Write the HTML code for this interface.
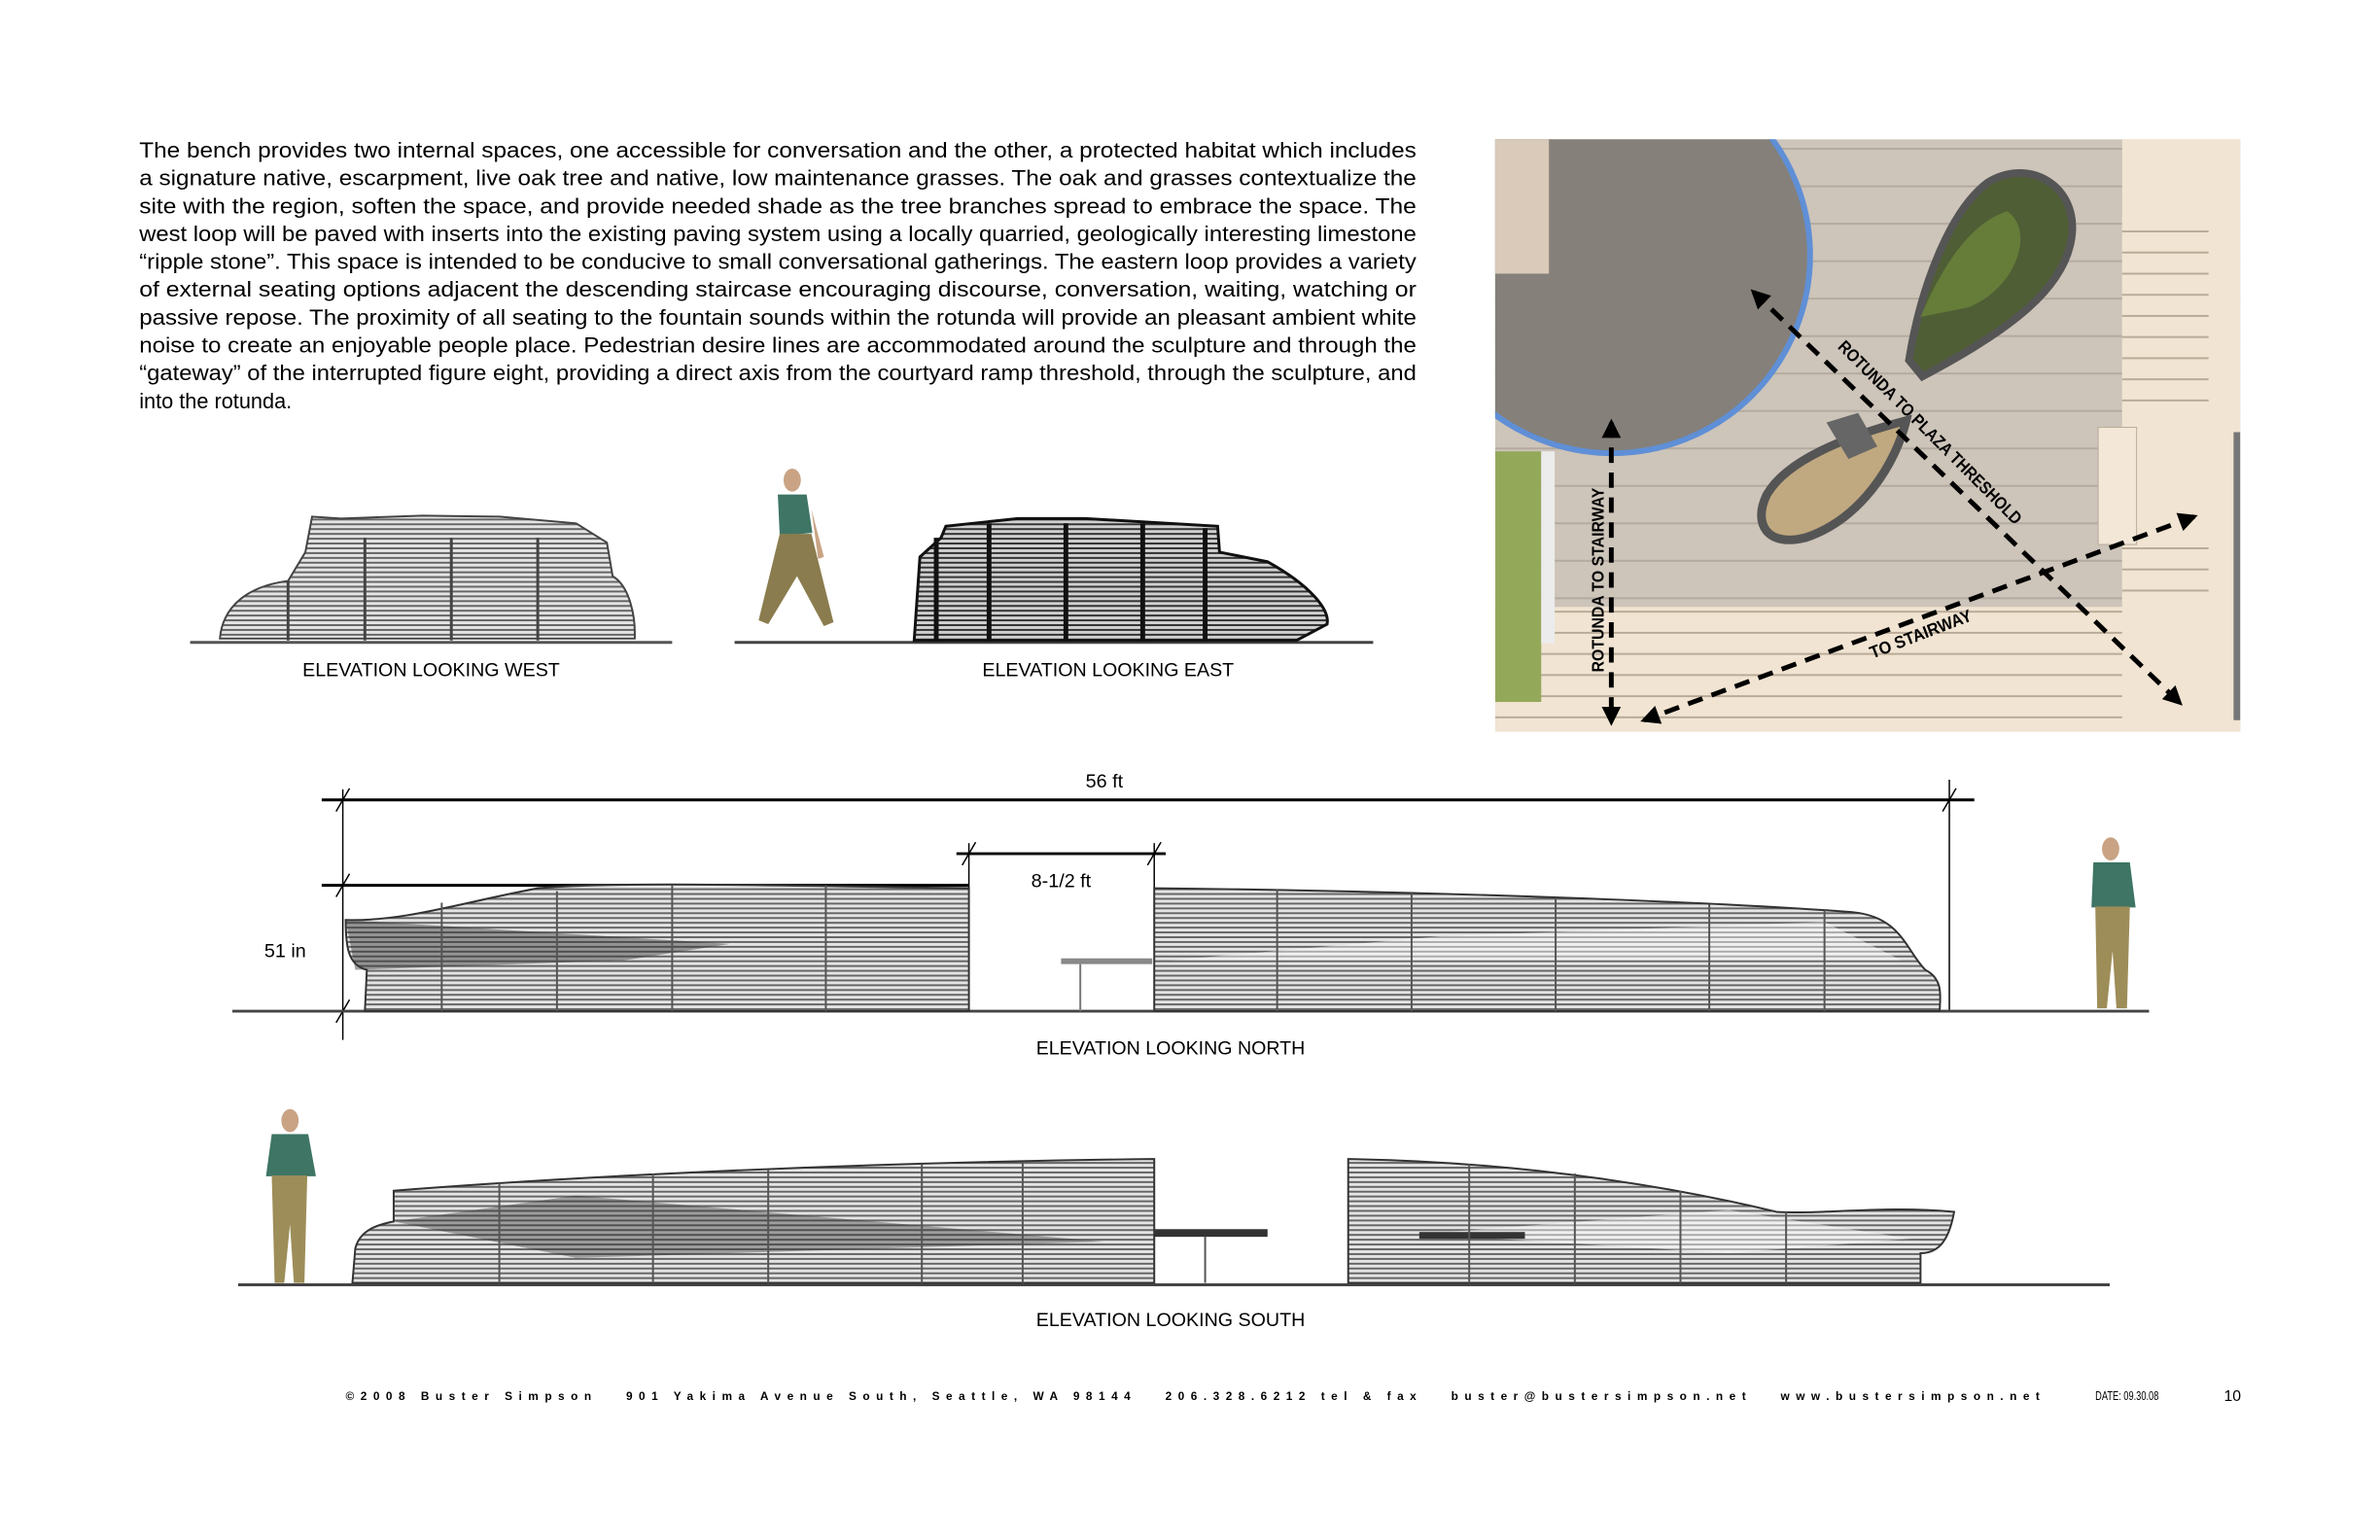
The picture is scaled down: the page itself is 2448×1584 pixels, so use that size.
<!DOCTYPE html>
<html><head><meta charset="utf-8"><style>
html,body{margin:0;padding:0;background:#fff}
svg{display:block}
text{font-family:"Liberation Sans",Arial,sans-serif}
</style></head><body>
<svg width="2448" height="1584" viewBox="0 0 2448 1584" xmlns="http://www.w3.org/2000/svg">
<defs>
<pattern id="st" width="6" height="5" patternUnits="userSpaceOnUse"><rect width="6" height="5" fill="#e4e4e4"/><rect width="6" height="2" fill="#666"/></pattern>
<pattern id="st2" width="6" height="5" patternUnits="userSpaceOnUse"><rect width="6" height="5" fill="#d0d0d0"/><rect width="6" height="2" fill="#333"/></pattern>
<pattern id="pav" width="40" height="39" patternUnits="userSpaceOnUse"><rect width="40" height="39" fill="#cdc4ba"/><rect y="37" width="40" height="2" fill="#b3aaa0"/></pattern>
<pattern id="stair" width="40" height="22" patternUnits="userSpaceOnUse"><rect width="40" height="22" fill="#f1e4d2"/><rect y="20" width="40" height="2" fill="#b9ab98"/></pattern>
<marker id="ah" viewBox="0 0 10 10" refX="8" refY="5" markerWidth="24" markerHeight="20" markerUnits="userSpaceOnUse" orient="auto-start-reverse"><path d="M0,0 L10,5 L0,10 z" fill="#000"/></marker>
<clipPath id="mapc"><rect x="1557" y="145" width="776" height="617"/></clipPath>
</defs>
<g transform="scale(0.9877)">

<!-- paragraph -->
<g font-size="22" fill="#000">
<text x="145" y="164" textLength="1330" lengthAdjust="spacingAndGlyphs">The bench provides two internal spaces, one accessible for conversation and the other, a protected habitat which includes</text>
<text x="145" y="193" textLength="1330" lengthAdjust="spacingAndGlyphs">a signature native, escarpment, live oak tree and native, low maintenance grasses. The oak and grasses contextualize the</text>
<text x="145" y="222" textLength="1330" lengthAdjust="spacingAndGlyphs">site with the region, soften the space, and provide needed shade as the tree branches spread to embrace the space. The</text>
<text x="145" y="251" textLength="1330" lengthAdjust="spacingAndGlyphs">west loop will be paved with inserts into the existing paving system using a locally quarried, geologically interesting limestone</text>
<text x="145" y="280" textLength="1330" lengthAdjust="spacingAndGlyphs">“ripple stone”. This space is intended to be conducive to small conversational gatherings. The eastern loop provides a variety</text>
<text x="145" y="309" textLength="1330" lengthAdjust="spacingAndGlyphs">of external seating options adjacent the descending staircase encouraging discourse, conversation, waiting, watching or</text>
<text x="145" y="338" textLength="1330" lengthAdjust="spacingAndGlyphs">passive repose. The proximity of all seating to the fountain sounds within the rotunda will provide an pleasant ambient white</text>
<text x="145" y="367" textLength="1330" lengthAdjust="spacingAndGlyphs">noise to create an enjoyable people place. Pedestrian desire lines are accommodated around the sculpture and through the</text>
<text x="145" y="396" textLength="1330" lengthAdjust="spacingAndGlyphs">“gateway” of the interrupted figure eight, providing a direct axis from the courtyard ramp threshold, through the sculpture, and</text>
<text x="145" y="425">into the rotunda.</text>
</g>

<!-- MAP -->
<g clip-path="url(#mapc)">
<rect x="1557" y="145" width="776" height="617" fill="url(#pav)"/>
<rect x="1557" y="632" width="776" height="130" fill="url(#stair)"/>
<rect x="2210" y="145" width="123" height="617" fill="#f1e4d2"/>
<rect x="2210" y="225" width="90" height="210" fill="url(#stair)"/>
<rect x="2185" y="445" width="40" height="122" fill="#f3e8d8" stroke="#b9ab98"/>
<rect x="2210" y="570" width="90" height="60" fill="url(#stair)"/>
<rect x="2326" y="450" width="7" height="300" fill="#777"/>
<circle cx="1679" cy="266" r="206" fill="#858079" stroke="#5f8fd6" stroke-width="6"/>
<rect x="1557" y="145" width="56" height="140" fill="#d9cab9"/>
<rect x="1557" y="470" width="48" height="261" fill="#94a85a"/>
<rect x="1605" y="470" width="14" height="200" fill="#ececec"/>
<!-- planter -->
<path d="M1988,375 C2000,300 2030,220 2070,190 C2110,165 2160,190 2158,240 C2155,300 2090,345 2002,392 Z" fill="#4f5e35" stroke="#555" stroke-width="8"/>
<path d="M2000,330 C2030,260 2060,230 2090,220 C2120,240 2100,300 2050,320 Z" fill="#6f8a3c" opacity=".7"/>
<!-- beige bench -->
<path d="M1985,438 C1975,480 1940,540 1880,560 C1840,570 1825,545 1840,515 C1860,480 1920,455 1985,438 Z" fill="#c0a880" stroke="#555" stroke-width="9"/>
<path d="M1902,440 L1925,478 L1955,465 L1935,430 Z" fill="#666"/>
</g>
<!-- map arrows -->
<g stroke="#000" stroke-width="5" stroke-dasharray="16,10" fill="none">
<line x1="1826" y1="304" x2="2270" y2="732" marker-end="url(#ah)" marker-start="url(#ah)"/>
<line x1="1678" y1="440" x2="1678" y2="752" marker-end="url(#ah)" marker-start="url(#ah)"/>
<line x1="2285" y1="538" x2="1712" y2="750" marker-end="url(#ah)" marker-start="url(#ah)"/>
</g>
<g font-size="18" font-weight="bold" fill="#000">
<text transform="translate(1913,362) rotate(45)" textLength="262" lengthAdjust="spacingAndGlyphs">ROTUNDA TO PLAZA THRESHOLD</text>
<text transform="translate(1670,700) rotate(-90)" textLength="192" lengthAdjust="spacingAndGlyphs">ROTUNDA TO STAIRWAY</text>
<text transform="translate(1950,686) rotate(-21)" textLength="112" lengthAdjust="spacingAndGlyphs">TO STAIRWAY</text>
</g>

<!-- WEST elevation -->
<line x1="198" y1="669" x2="700" y2="669" stroke="#555" stroke-width="3"/>
<path d="M229,665 C232,630 260,610 300,605 L318,575 L325,538 L355,540 L440,537 L520,538 L600,545 L632,565 L638,600 C655,610 662,640 661,665 Z" fill="url(#st)" stroke="#444" stroke-width="2"/>
<g stroke="#444" stroke-width="3"><line x1="300" y1="605" x2="300" y2="667"/><line x1="380" y1="560" x2="380" y2="667"/><line x1="470" y1="560" x2="470" y2="667"/><line x1="560" y1="560" x2="560" y2="667"/></g>
<text x="449" y="704" font-size="20" text-anchor="middle" textLength="268" lengthAdjust="spacingAndGlyphs">ELEVATION LOOKING WEST</text>

<!-- EAST elevation -->
<line x1="765" y1="669" x2="1430" y2="669" stroke="#444" stroke-width="3"/>
<path d="M952,667 L958,580 L980,560 L985,548 L1060,540 L1130,540 L1268,548 L1270,575 L1320,585 C1365,610 1385,635 1382,650 L1350,667 Z" fill="url(#st2)" stroke="#111" stroke-width="3"/>
<g stroke="#111" stroke-width="5"><line x1="975" y1="560" x2="975" y2="667"/><line x1="1030" y1="545" x2="1030" y2="667"/><line x1="1110" y1="545" x2="1110" y2="667"/><line x1="1190" y1="545" x2="1190" y2="667"/><line x1="1255" y1="550" x2="1255" y2="667"/></g>
<!-- walking person -->
<g>
<ellipse cx="825" cy="500" rx="9" ry="12" fill="#c9a384"/>
<path d="M810,515 L840,515 L846,555 L812,558 Z" fill="#3e7565"/>
<path d="M812,556 L845,556 L868,648 L858,652 L830,600 L800,650 L790,646 Z" fill="#8a7c4e"/>
<path d="M845,530 L858,580 L852,582 Z" fill="#c9a384"/>
</g>
<text x="1154" y="704" font-size="20" text-anchor="middle" textLength="262" lengthAdjust="spacingAndGlyphs">ELEVATION LOOKING EAST</text>

<!-- NORTH elevation -->
<g stroke="#000" fill="none">
<line x1="335" y1="833" x2="2056" y2="833" stroke-width="3"/>
<line x1="357" y1="822" x2="357" y2="1083" stroke-width="1.5"/>
<line x1="2030" y1="812" x2="2030" y2="1053" stroke-width="1.5"/>
<line x1="335" y1="922" x2="1009" y2="922" stroke-width="3"/>
<line x1="996" y1="889" x2="1214" y2="889" stroke-width="3"/>
<line x1="1009" y1="878" x2="1009" y2="1053" stroke-width="1.5"/>
<line x1="1202" y1="878" x2="1202" y2="960" stroke-width="1.5"/>
<line x1="350" y1="845" x2="364" y2="821" stroke-width="1.5"/>
<line x1="2023" y1="845" x2="2037" y2="821" stroke-width="1.5"/>
<line x1="350" y1="934" x2="364" y2="910" stroke-width="1.5"/>
<line x1="350" y1="1065" x2="364" y2="1041" stroke-width="1.5"/>
<line x1="1002" y1="901" x2="1016" y2="877" stroke-width="1.5"/>
<line x1="1195" y1="901" x2="1209" y2="877" stroke-width="1.5"/>
</g>
<line x1="242" y1="1053" x2="2238" y2="1053" stroke="#444" stroke-width="3"/>
<path d="M360,958 C420,960 480,940 560,925 C640,918 800,922 1009,925 L1009,1053 L380,1053 L382,1010 C362,1005 360,985 360,958 Z" fill="url(#st)" stroke="#333" stroke-width="2"/>
<path d="M360,958 L370,1010 L650,1000 L760,983 Z" fill="#333" opacity=".45"/>
<path d="M1202,925 C1500,928 1800,940 1930,950 C1980,955 1985,990 2005,1010 C2025,1020 2020,1040 2020,1053 L1202,1053 Z" fill="url(#st)" stroke="#333" stroke-width="2"/>
<path d="M1220,1000 L1500,975 L1900,960 L1980,1000 Z" fill="#fff" opacity=".45"/>
<rect x="1105" y="998" width="95" height="6" fill="#888"/>
<line x1="1125" y1="1004" x2="1125" y2="1053" stroke="#777" stroke-width="2"/>
<g stroke="#555" stroke-width="2">
<line x1="460" y1="940" x2="460" y2="1053"/><line x1="580" y1="928" x2="580" y2="1053"/><line x1="700" y1="922" x2="700" y2="1053"/><line x1="860" y1="922" x2="860" y2="1053"/>
<line x1="1330" y1="926" x2="1330" y2="1053"/><line x1="1470" y1="930" x2="1470" y2="1053"/><line x1="1620" y1="935" x2="1620" y2="1053"/><line x1="1780" y1="942" x2="1780" y2="1053"/><line x1="1900" y1="948" x2="1900" y2="1053"/>
</g>
<text x="1150" y="820" font-size="20" text-anchor="middle">56 ft</text>
<text x="1105" y="924" font-size="20" text-anchor="middle">8-1/2 ft</text>
<text x="297" y="997" font-size="20" text-anchor="middle">51 in</text>
<text x="1219" y="1098" font-size="20" text-anchor="middle" textLength="280" lengthAdjust="spacingAndGlyphs">ELEVATION LOOKING NORTH</text>
<g>
<ellipse cx="2198" cy="884" rx="9" ry="12" fill="#c9a384"/>
<path d="M2180,898 L2218,898 L2224,945 L2178,945 Z" fill="#3e7565"/>
<path d="M2182,944 L2218,944 L2215,1050 L2204,1050 L2200,990 L2194,1050 L2184,1050 Z" fill="#9d8d58"/>
</g>

<!-- SOUTH elevation -->
<line x1="248" y1="1338" x2="2197" y2="1338" stroke="#444" stroke-width="3"/>
<path d="M410,1240 C600,1225 900,1210 1202,1207 L1202,1336 L367,1336 L370,1300 C375,1280 395,1275 410,1272 Z" fill="url(#st)" stroke="#333" stroke-width="2"/>
<path d="M410,1272 L600,1245 L1150,1293 L600,1310 Z" fill="#333" opacity=".4"/>
<rect x="1202" y="1280" width="118" height="8" fill="#333"/>
<line x1="1255" y1="1288" x2="1255" y2="1336" stroke="#555" stroke-width="2"/>
<path d="M1404,1207 C1600,1210 1760,1240 1850,1262 C1900,1265 1960,1255 2035,1262 C2030,1290 2020,1305 2000,1305 L2000,1336 L1404,1336 Z" fill="url(#st)" stroke="#333" stroke-width="2"/>
<path d="M1480,1285 L1800,1260 L1990,1290 L1800,1305 Z" fill="#fff" opacity=".45"/>
<rect x="1478" y="1283" width="110" height="7" fill="#333"/>
<g stroke="#555" stroke-width="2">
<line x1="520" y1="1232" x2="520" y2="1336"/><line x1="680" y1="1222" x2="680" y2="1336"/><line x1="800" y1="1218" x2="800" y2="1336"/><line x1="960" y1="1212" x2="960" y2="1336"/><line x1="1065" y1="1210" x2="1065" y2="1336"/>
<line x1="1530" y1="1212" x2="1530" y2="1336"/><line x1="1640" y1="1222" x2="1640" y2="1336"/><line x1="1750" y1="1240" x2="1750" y2="1336"/><line x1="1860" y1="1262" x2="1860" y2="1336"/>
</g>
<g>
<ellipse cx="302" cy="1167" rx="9" ry="12" fill="#c9a384"/>
<path d="M283,1181 L321,1181 L329,1225 L277,1225 Z" fill="#3e7565"/>
<path d="M283,1224 L320,1224 L317,1336 L306,1336 L302,1275 L296,1336 L286,1336 Z" fill="#9d8d58"/>
</g>
<text x="1219" y="1381" font-size="20" text-anchor="middle" textLength="280" lengthAdjust="spacingAndGlyphs">ELEVATION LOOKING SOUTH</text>

<!-- footer -->
<text x="360" y="1458" font-size="12" font-weight="bold" textLength="1764" lengthAdjust="spacing" xml:space="preserve">©2008 Buster Simpson   901 Yakima Avenue South, Seattle, WA 98144   206.328.6212 tel &amp; fax   buster@bustersimpson.net   www.bustersimpson.net</text>
<text x="2182" y="1458" font-size="13" textLength="66" lengthAdjust="spacingAndGlyphs">DATE: 09.30.08</text>
<text x="2316" y="1459" font-size="16">10</text>
</g>
</svg>
</body></html>
